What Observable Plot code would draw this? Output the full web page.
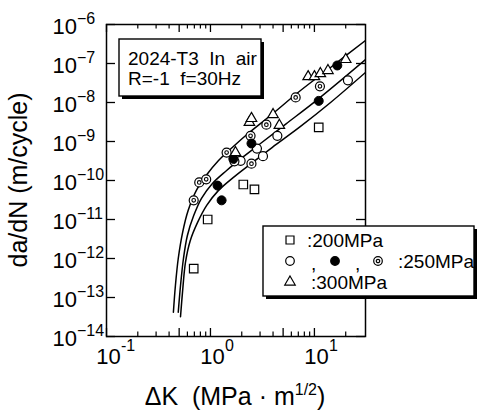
<!DOCTYPE html>
<html><head><meta charset="utf-8">
<script src="https://cdn.jsdelivr.net/npm/d3@7"></script>
<script src="https://cdn.jsdelivr.net/npm/@observablehq/plot@0.6"></script>
<style>
body{margin:0;background:#fff;}
#wrap{width:479px;height:411px;}
</style></head><body><div id="wrap"></div>
<script>
// ---- data (ΔK in MPa·m^1/2, da/dN in m/cycle) ----
const sq200K = [0.69, 0.94, 2.07, 2.65, 11];
const sq200R = [5.5e-13, 1.0e-11, 7.9e-11, 5.9e-11, 2.3e-9];
const open250K = [1.95, 2.8, 3.2, 4.4, 21];
const open250R = [3.2e-10, 6.6e-10, 4.2e-10, 1.4e-9, 3.7e-8];
const solid250K = [1.17, 1.28, 1.66, 2.48, 11, 16.6];
const solid250R = [7.4e-11, 3.1e-11, 3.6e-10, 8.9e-10, 1.1e-8, 8.9e-8];
const dbl250K = [0.69, 0.78, 0.91, 1.43, 1.70, 2.48, 2.43, 3.45, 6.6, 11.3];
const dbl250R = [3.1e-11, 8.9e-11, 1.07e-10, 5.2e-10, 3.1e-10, 2.7e-10, 1.4e-9, 2.7e-9, 1.35e-8, 2.6e-8];
const tri300K = [1.74, 2.37, 2.48, 4.0, 4.6, 8.7, 10, 11.4, 13.5, 20];
const tri300R = [5.2e-10, 3.1e-9, 3.9e-9, 4.9e-9, 2.6e-9, 4.6e-8, 4.6e-8, 5.5e-8, 6.6e-8, 1.27e-7];

const fitA_K = [0.44, 0.46, 0.49, 0.54, 0.61, 0.73, 0.92, 1.19, 1.63, 2.3, 3.8, 7.3, 14.3, 31];
const fitA_R = [4.2e-14, 2.0e-13, 1.0e-12, 4.7e-12, 1.7e-11, 5.5e-11, 1.4e-10, 3.2e-10, 7.1e-10, 1.6e-9, 4.7e-9, 2.0e-8, 7.9e-8, 3.9e-7];
const fitB_K = [0.49, 0.515, 0.55, 0.60, 0.69, 0.82, 1.04, 1.43, 2.03, 3.03, 5.3, 11, 31];
const fitB_R = [4.2e-14, 2.0e-13, 1.0e-12, 3.9e-12, 1.26e-11, 3.5e-11, 8.3e-11, 1.8e-10, 3.9e-10, 8.9e-10, 2.8e-9, 1.26e-8, 1.26e-7];
const fitC_K = [0.515, 0.54, 0.575, 0.64, 0.75, 0.92, 1.19, 1.70, 2.54, 3.94, 7.3, 14.3, 31];
const fitC_R = [3.2e-14, 1.5e-13, 8.0e-13, 2.9e-12, 8.3e-12, 2.3e-11, 5.5e-11, 1.26e-10, 2.9e-10, 7.1e-10, 2.4e-9, 1.0e-8, 5.9e-8];

const xMajorTicks = [0.1, 1, 10];
const xMajorExp = ["-1", "0", "1"];
const xLongTicks = [0.1, 0.5, 1, 5, 10];
const xShortTicks = [0.2, 0.3, 0.4, 0.6, 0.7, 0.8, 0.9, 2, 3, 4, 6, 7, 8, 9, 20];
const yMajorTicks = [1e-6, 1e-7, 1e-8, 1e-9, 1e-10, 1e-11, 1e-12, 1e-13, 1e-14];
const yMajorExp = ["−6", "−7", "−8", "−9", "−10", "−11", "−12", "−13", "−14"];

const annotLines = ["2024-T3  In  air", "R=-1  f=30Hz"];
const legendLabels = [":200MPa", ":250MPa", ":300MPa"];
const xTitle = ["ΔK  (MPa · m", "1/2", ")"];
const yTitle = "da/dN (m/cycle)";

// ---- build ----
const FONT = "'Liberation Sans', Arial, Helvetica, sans-serif";
const W = 479, H = 411, mL = 106, mR = 114, mT = 24, mB = 75;
const fw = W - mL - mR, fh = H - mT - mB;
const zip = (a, b) => a.map((v, i) => ({k: v, r: b[i]}));
const xLab = xMajorTicks.map((v, i) => ({v, e: xMajorExp[i]}));
const yLab = yMajorTicks.map((v, i) => ({v, e: yMajorExp[i]}));

const lineOpts = {x: "k", y: "r", curve: "catmull-rom", stroke: "black", strokeWidth: 1.5, clip: true};
const chart = Plot.plot({
  width: W, height: H,
  marginLeft: mL, marginRight: mR, marginTop: mT, marginBottom: mB,
  style: {fontFamily: FONT, background: "white", color: "black", overflow: "visible"},
  x: {type: "log", domain: [0.1, 31], axis: null},
  y: {type: "log", domain: [1e-14, 1e-6], axis: null},
  marks: [
    Plot.line(zip(fitA_K, fitA_R), lineOpts),
    Plot.line(zip(fitB_K, fitB_R), lineOpts),
    Plot.line(zip(fitC_K, fitC_R), lineOpts),
    Plot.dot(zip(sq200K, sq200R), {x: "k", y: "r", symbol: "square", r: 4.8, stroke: "black", fill: "white", strokeWidth: 1.2}),
    Plot.dot(zip(open250K, open250R), {x: "k", y: "r", r: 4.5, stroke: "black", fill: "white", strokeWidth: 1.2}),
    Plot.dot(zip(dbl250K, dbl250R), {x: "k", y: "r", r: 4.5, stroke: "black", fill: "white", strokeWidth: 1.2}),
    Plot.dot(zip(dbl250K, dbl250R), {x: "k", y: "r", r: 1.8, stroke: "black", fill: "none", strokeWidth: 1.1}),
    Plot.dot(zip(solid250K, solid250R), {x: "k", y: "r", r: 4.5, stroke: "black", fill: "black", strokeWidth: 1}),
    Plot.dot(zip(tri300K, tri300R), {x: "k", y: "r", symbol: "triangle", r: 3.9, stroke: "black", fill: "white", strokeWidth: 1.2}),
    // inward ticks
    Plot.tickX(xLongTicks, {x: d => d, insetTop: fh - 8, strokeWidth: 1.3}),
    Plot.tickX(xLongTicks, {x: d => d, insetBottom: fh - 8, strokeWidth: 1.3}),
    Plot.tickX(xShortTicks, {x: d => d, insetTop: fh - 4.5, strokeWidth: 1.2}),
    Plot.tickX(xShortTicks, {x: d => d, insetBottom: fh - 4.5, strokeWidth: 1.2}),
    Plot.tickY(yMajorTicks, {y: d => d, insetRight: fw - 9, strokeWidth: 1.3}),
    Plot.tickY(yMajorTicks, {y: d => d, insetLeft: fw - 9, strokeWidth: 1.3}),
    Plot.frame({stroke: "black", strokeWidth: 1.5}),
    // tick labels
    Plot.text(xLab, {x: "v", text: () => "10", frameAnchor: "bottom", lineAnchor: "bottom", dy: 27, dx: 2, textAnchor: "middle", fontSize: 22, fill: "black"}),
    Plot.text(xLab, {x: "v", text: "e", frameAnchor: "bottom", lineAnchor: "bottom", dy: 14, dx: 14.5, textAnchor: "start", fontSize: 16, fill: "black"}),
    Plot.text(yLab, {y: "v", text: () => "10", frameAnchor: "left", lineAnchor: "bottom", dy: 9, dx: -54, textAnchor: "start", fontSize: 22, fill: "black"}),
    Plot.text(yLab, {y: "v", text: "e", frameAnchor: "left", lineAnchor: "bottom", dy: -1, dx: -29.5, textAnchor: "start", fontSize: 16, fill: "black"})
  ]
});
document.getElementById("wrap").appendChild(chart);

// ---- annotations (boxes, legend, axis titles) ----
const svg = d3.select(chart);
const g = svg.append("g").attr("font-family", FONT).attr("fill", "black").attr("text-anchor", "start");

// y title
g.append("text").attr("transform", `translate(27,${mT + fh / 2}) rotate(-90)`).attr("text-anchor", "middle")
  .attr("font-size", 25).text(yTitle);

// annotation box
g.append("rect").attr("x", 122).attr("y", 42).attr("width", 142).attr("height", 57).attr("fill", "black");
g.append("rect").attr("x", 119).attr("y", 39).attr("width", 142).attr("height", 57).attr("fill", "white").attr("stroke", "black").attr("stroke-width", 1.4);
annotLines.forEach((s, i) => {
  g.append("text").attr("x", 128).attr("y", 65 + i * 20).attr("font-size", 19)
    .attr("xml:space", "preserve").style("white-space", "pre").text(s);
});

// legend box
g.append("rect").attr("x", 266).attr("y", 229).attr("width", 211).attr("height", 70).attr("fill", "black");
g.append("rect").attr("x", 263).attr("y", 226).attr("width", 211).attr("height", 70).attr("fill", "white").attr("stroke", "black").attr("stroke-width", 1.4);
const sym = (type, r, x, y, fill) => g.append("path")
  .attr("d", d3.symbol(type, r * r * Math.PI)()).attr("transform", `translate(${x},${y})`)
  .attr("fill", fill).attr("stroke", "black").attr("stroke-width", 1.2);
const rowY = [240, 261, 282];
sym(d3.symbolSquare, 4.5, 290, rowY[0], "white");
sym(d3.symbolCircle, 4.3, 290, rowY[1], "white");
sym(d3.symbolCircle, 4.3, 335, rowY[1], "black");
sym(d3.symbolCircle, 4.3, 378, rowY[1], "white");
sym(d3.symbolCircle, 1.7, 378, rowY[1], "none");
sym(d3.symbolTriangle, 3.9, 290, rowY[2], "white");
g.append("text").attr("x", 311).attr("y", rowY[1] + 9).attr("font-size", 19).text(",");
g.append("text").attr("x", 355).attr("y", rowY[1] + 9).attr("font-size", 19).text(",");
g.append("text").attr("x", 307).attr("y", rowY[0] + 7).attr("font-size", 19).text(legendLabels[0]);
g.append("text").attr("x", 398).attr("y", rowY[1] + 7).attr("font-size", 19).text(legendLabels[1]);
g.append("text").attr("x", 311).attr("y", rowY[2] + 7).attr("font-size", 19).text(legendLabels[2]);

// x title with superscript
const xt = g.append("text").attr("x", 235).attr("y", 405).attr("text-anchor", "middle").attr("font-size", 25)
  .attr("xml:space", "preserve").style("white-space", "pre");
xt.append("tspan").text(xTitle[0]);
xt.append("tspan").attr("font-size", 16).attr("dy", -10).text(xTitle[1]);
xt.append("tspan").attr("dy", 10).text(xTitle[2]);
</script>
</body></html>
